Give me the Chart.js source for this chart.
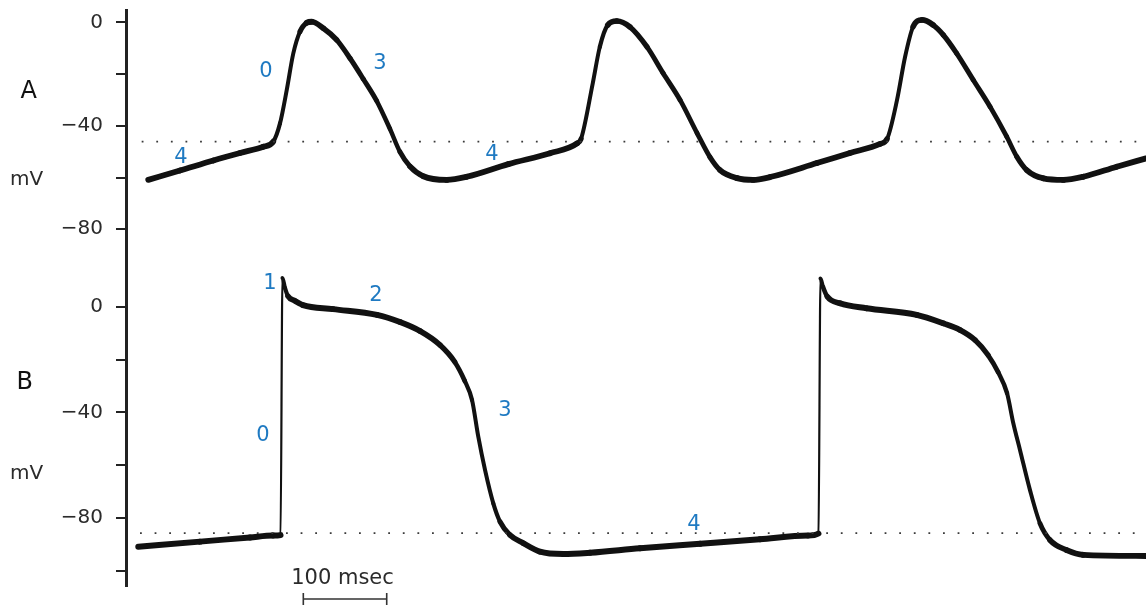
<!DOCTYPE html>
<html>
<head>
<meta charset="utf-8">
<script src="https://cdn.jsdelivr.net/npm/chart.js@4.4.1/dist/chart.umd.min.js"></script>
<style>
  html, body { margin: 0; padding: 0; background: #ffffff; }
  #wrap { width: 1146px; height: 606px; position: relative; }
</style>
</head>
<body>
<div id="wrap"><canvas id="chart"></canvas></div>
<script>
// ---------- DATA (time in ms, membrane potential in mV) ----------
// Trace A: pacemaker (SA node) action potentials
const timeA = [26.7, 64.7, 104.7, 136.7, 164.6, 176.6, 184.7, 192.7, 200.6, 208.6, 216.7, 222.7, 236.6, 252.6, 268.6, 284.5, 300.6, 316.5, 328.5, 340.5, 356.5, 384.5, 408.5, 458.5, 508.4, 540.8, 545.6, 559.7, 568.1, 577.7, 588.5, 604.3, 624.7, 643.9, 664.3, 684.7, 700.2, 712.2, 732.6, 751.8, 772.2, 828.5, 868.1, 904.1, 912.5, 924.5, 934.1, 943.6, 954.4, 967.6, 980.0, 996.0, 1015.9, 1036.0, 1056.0, 1068.0, 1080.0, 1099.9, 1123.9, 1147.8, 1187.9, 1223.0];
const mvA   = [-60.9, -57.3, -53.4, -50.5, -48.1, -46.1, -39.0, -26.2, -12.0, -3.6, -0.2, 0.2, -2.3, -6.8, -13.9, -21.9, -30.4, -41.2, -50.1, -55.7, -59.5, -60.9, -59.7, -54.8, -50.6, -46.8, -45.1, -23.5, -9.5, -1.0, 0.5, -1.8, -9.5, -19.6, -30.0, -42.8, -52.1, -57.1, -60.2, -60.9, -59.8, -54.4, -50.5, -47.0, -45.1, -30.0, -13.4, -1.8, 0.9, -1.0, -4.9, -12.0, -22.3, -32.6, -44.2, -51.9, -57.1, -60.3, -60.9, -59.7, -55.8, -52.6];

// Trace B: ventricular muscle action potentials
const timeB = [14.7, 88.7, 148.7, 176.3, 185.3, 187.6, 190.6, 194.2, 202.6, 212.2, 248.2, 301.0, 328.5, 352.5, 376.5, 394.2, 406.2, 414.9, 422.4, 430.5, 440.4, 448.4, 460.4, 476.4, 496.4, 524.3, 556.4, 616.3, 688.5, 760.2, 817.7, 830.3, 832.7, 835.7, 840.9, 856.1, 888.1, 948.1, 980.0, 1000.0, 1018.0, 1033.6, 1045.6, 1056.4, 1063.9, 1071.9, 1083.9, 1095.9, 1107.9, 1127.9, 1147.8, 1223.0];
const mvB   = [-90.8, -88.9, -87.3, -86.6, -86.4, 10.9, 7.1, 4.0, 2.2, 0.6, -0.9, -3.1, -5.8, -9.2, -14.5, -20.9, -28.1, -35.3, -49.2, -61.8, -74.4, -81.3, -86.4, -89.5, -92.7, -93.6, -93.1, -91.4, -89.7, -88.0, -86.6, -85.8, 10.7, 7.5, 3.8, 1.3, -0.6, -3.1, -6.3, -8.8, -12.6, -18.3, -24.7, -32.7, -44.1, -54.2, -69.4, -82.0, -88.3, -92.1, -93.9, -94.3];

// Dotted reference levels
const thresholdA = -46.1;  const thresholdStartA = 18.8;
const restB = -85.7;       const restStartB = 16.8;

// Y tick values / labels for each panel
const ticksA = [0, -20, -40, -60, -80];
const tickLabelsA = ['0', '', '\u221240', '', '\u221280'];
const ticksB = [0, -20, -40, -60, -80, -100];
const tickLabelsB = ['0', '', '\u221240', '', '\u221280', ''];

// Phase labels
const phaseTextA = ['0', '3', '4', '4'];
const phaseTimeA = [167.9, 304.6, 65.9, 438.8];
const phaseMvA   = [-18.2, -15.0, -51.5, -50.1];
const phaseTextB = ['1', '0', '2', '3', '4'];
const phaseTimeB = [172.7, 164.3, 299.8, 454.4, 681.1];
const phaseMvB   = [9.7, -47.8, 5.2, -38.3, -81.5];

// Panel names and unit
const panelNames = ['A', 'B'];
const panelNameMv = [-26.0, -27.7];
const unitText = 'mV';
const unitMv = [-60.0, -62.3];

// Time scale bar
const scaleBarStart = 212.6;
const scaleBarLength = 100;
const scaleBarText = '100 msec';

// ---------- AXIS RANGES ----------
const X_MIN = 0, X_MAX = 1223;
const YA_MIN = -217.86, YA_MAX = 4.754;   // panel A scale (full plot height)
const YB_MIN = -105.68, YB_MAX = 112.26;  // panel B scale (full plot height)

function bToA(v) {
  return YA_MIN + (v - YB_MIN) * (YA_MAX - YA_MIN) / (YB_MAX - YB_MIN);
}

const axisTicks = ticksA.map((v, i) => ({ value: v, label: tickLabelsA[i] }))
  .concat(ticksB.map((v, i) => ({ value: bToA(v), label: tickLabelsB[i] })))
  .sort((a, b) => a.value - b.value);

const FONT = 'DejaVu Sans';
const BLUE = '#1f7ac2';

function traceWidth(c) {
  const dx = Math.abs(c.p1.x - c.p0.x), dy = Math.abs(c.p1.y - c.p0.y);
  const slope = dy / Math.max(dx, 0.01);
  if (slope > 12) return 2.2;
  return 6 - 2 * Math.min(1, slope / 3);
}

const overlay = {
  id: 'overlay',
  afterDatasetsDraw(chart) {
    const { ctx, chartArea, scales } = chart;
    const x = scales.x, yA = scales.y, yB = scales.yB;
    ctx.save();
    ctx.textAlign = 'center';
    ctx.textBaseline = 'alphabetic';
    // phase labels
    const ps = 21;
    ctx.font = ps + 'px "' + FONT + '"';
    ctx.fillStyle = BLUE;
    phaseTextA.forEach((t, i) => {
      ctx.fillText(t, x.getPixelForValue(phaseTimeA[i]), yA.getPixelForValue(phaseMvA[i]) + 0.3645 * ps);
    });
    phaseTextB.forEach((t, i) => {
      ctx.fillText(t, x.getPixelForValue(phaseTimeB[i]), yB.getPixelForValue(phaseMvB[i]) + 0.3645 * ps);
    });
    // panel names
    const ns = 24;
    ctx.font = ns + 'px "' + FONT + '"';
    ctx.fillStyle = '#111111';
    ctx.fillText(panelNames[0], chartArea.left - 97.3, yA.getPixelForValue(panelNameMv[0]) + 0.3645 * ns);
    ctx.fillText(panelNames[1], chartArea.left - 101.3, yB.getPixelForValue(panelNameMv[1]) + 0.3645 * ns);
    // unit labels
    const us = 20;
    ctx.font = us + 'px "' + FONT + '"';
    ctx.fillStyle = '#2b2b2b';
    ctx.fillText(unitText, chartArea.left - 99.3, yA.getPixelForValue(unitMv[0]) + 0.3645 * us);
    ctx.fillText(unitText, chartArea.left - 99.3, yB.getPixelForValue(unitMv[1]) + 0.3645 * us);
    // scale bar
    const x0 = x.getPixelForValue(scaleBarStart);
    const x1 = x.getPixelForValue(scaleBarStart + scaleBarLength);
    const by = chartArea.bottom + 13;
    ctx.strokeStyle = '#333333';
    ctx.lineWidth = 1.6;
    ctx.beginPath();
    ctx.moveTo(x0, by); ctx.lineTo(x1, by);
    ctx.moveTo(x0, by - 6); ctx.lineTo(x0, by + 6);
    ctx.moveTo(x1, by - 6); ctx.lineTo(x1, by + 6);
    ctx.stroke();
    const ss = 21;
    ctx.font = ss + 'px "' + FONT + '"';
    ctx.fillStyle = '#2b2b2b';
    ctx.fillText(scaleBarText, (x0 + x1) / 2 - 2.5, chartArea.bottom - 9.5 + 0.3645 * ss);
    ctx.restore();
  }
};

const traceStyle = {
  borderColor: '#111111',
  borderWidth: 5,
  pointRadius: 0,
  pointHoverRadius: 0,
  fill: false,
  cubicInterpolationMode: 'monotone',
  borderCapStyle: 'round',
  borderJoinStyle: 'round',
  segment: { borderWidth: traceWidth }
};

const dotStyle = {
  borderColor: '#3a3a3a',
  borderWidth: 1.8,
  borderDash: [1.8, 12.8],
  borderCapStyle: 'butt',
  pointRadius: 0,
  pointHoverRadius: 0,
  fill: false,
  tension: 0
};

new Chart(document.getElementById('chart'), {
  type: 'line',
  data: {
    datasets: [
      Object.assign({ label: 'A threshold', yAxisID: 'y',
        data: [{ x: thresholdStartA, y: thresholdA }, { x: X_MAX, y: thresholdA }] }, dotStyle),
      Object.assign({ label: 'B resting level', yAxisID: 'yB',
        data: [{ x: restStartB, y: restB }, { x: X_MAX, y: restB }] }, dotStyle),
      Object.assign({ label: 'A', yAxisID: 'y',
        data: timeA.map((t, i) => ({ x: t, y: mvA[i] })) }, traceStyle),
      Object.assign({ label: 'B', yAxisID: 'yB',
        data: timeB.map((t, i) => ({ x: t, y: mvB[i] })) }, traceStyle)
    ]
  },
  options: {
    responsive: true,
    maintainAspectRatio: false,
    animation: false,
    events: [],
    layout: { padding: { top: 10, bottom: 20, left: 0, right: 0 } },
    plugins: { legend: { display: false }, tooltip: { enabled: false } },
    scales: {
      x: { type: 'linear', min: X_MIN, max: X_MAX, display: false },
      y: {
        type: 'linear',
        position: 'left',
        min: YA_MIN,
        max: YA_MAX,
        afterBuildTicks: (scale) => { scale.ticks = axisTicks.map(t => ({ value: t.value })); },
        afterFit: (scale) => { scale.width = 126; scale.paddingTop = 0; scale.paddingBottom = 0; },
        ticks: {
          autoSkip: false,
          padding: 13,
          color: '#2b2b2b',
          font: { family: FONT, size: 20 },
          callback: (value, index) => axisTicks[index] ? axisTicks[index].label : ''
        },
        grid: { drawOnChartArea: false, drawTicks: true, tickLength: 10, color: '#222222', lineWidth: 2 },
        border: { display: true, color: '#222222', width: 3 }
      },
      yB: { type: 'linear', position: 'left', min: YB_MIN, max: YB_MAX, display: false }
    }
  },
  plugins: [overlay]
});
</script>
</body>
</html>
